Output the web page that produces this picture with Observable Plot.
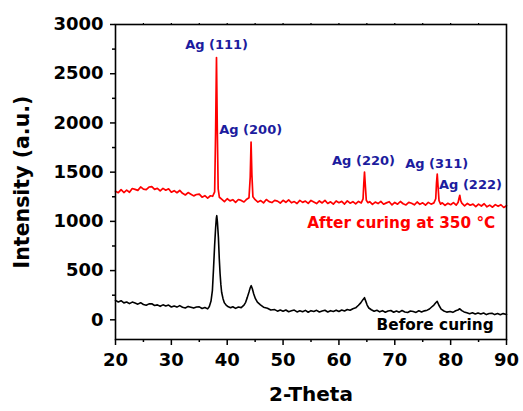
<!DOCTYPE html>
<html>
<head>
<meta charset="utf-8">
<script src="https://cdn.jsdelivr.net/npm/d3@7"></script>
<script src="https://cdn.jsdelivr.net/npm/@observablehq/plot@0.6"></script>
<style>
  html, body { margin: 0; padding: 0; background: white; }
</style>
</head>
<body>
<div id="chart"></div>
<script>
// After curing at 350 °C: [2-Theta, Intensity]
const afterCuring = [[20,1307],[20.5,1292],[21,1323],[21.5,1293],[22,1317],[22.5,1296],[23,1334],[23.5,1325],[24,1315],[24.5,1350],[25,1328],[25.5,1322],[26,1349],[26.5,1353],[27,1325],[27.5,1336],[28,1310],[28.5,1335],[29,1317],[29.5,1331],[30,1296],[30.5,1312],[31,1291],[31.5,1314],[32,1285],[32.5,1268],[33,1293],[33.5,1276],[34,1259],[34.5,1273],[35,1277],[35.5,1246],[36,1261],[36.5,1237],[37,1260],[37.4,1255],[37.75,1300],[37.92,1900],[38.08,2665],[38.22,1950],[38.38,1330],[38.6,1245],[39,1225],[39.5,1200],[40,1230],[40.5,1208],[41,1220],[41.5,1193],[42,1222],[42.5,1213],[43,1197],[43.5,1225],[43.9,1240],[44.12,1450],[44.27,1805],[44.42,1470],[44.6,1250],[45,1220],[45.5,1196],[46,1211],[46.5,1188],[47,1222],[47.5,1201],[48,1191],[48.5,1213],[49,1206],[49.5,1186],[50,1214],[50.5,1194],[51,1219],[51.5,1189],[52,1201],[52.5,1181],[53,1213],[53.5,1193],[54,1206],[54.5,1183],[55,1213],[55.5,1197],[56,1181],[56.5,1207],[57,1187],[57.5,1213],[58,1182],[58.5,1199],[59,1175],[59.5,1207],[60,1190],[60.5,1203],[61,1176],[61.5,1208],[62,1185],[62.5,1200],[63,1178],[63.5,1203],[64,1187],[64.32,1228],[64.45,1380],[64.58,1500],[64.72,1370],[64.9,1215],[65.2,1190],[65.5,1200],[66,1173],[66.5,1196],[67,1181],[67.5,1203],[68,1174],[68.5,1188],[69,1200],[69.5,1167],[70,1192],[70.5,1175],[71,1202],[71.5,1179],[72,1167],[72.5,1193],[73,1184],[73.5,1168],[74,1197],[74.5,1173],[75,1188],[75.5,1165],[76,1193],[76.5,1175],[77,1188],[77.33,1230],[77.47,1390],[77.6,1480],[77.74,1360],[77.92,1210],[78.2,1175],[78.5,1189],[79,1162],[79.5,1184],[80,1169],[80.5,1191],[81,1165],[81.35,1195],[81.5,1235],[81.64,1265],[81.8,1210],[82,1185],[82.5,1158],[83,1182],[83.5,1164],[84,1175],[84.5,1149],[85,1175],[85.5,1156],[86,1179],[86.5,1148],[87,1165],[87.5,1144],[88,1170],[88.5,1153],[89,1169],[89.5,1141],[90,1159]];

// Before curing: [2-Theta, Intensity]
const beforeCuring = [[20,197],[20.5,181],[21,194],[21.5,172],[22,181],[22.5,164],[23,180],[23.5,170],[24,159],[24.5,174],[25,156],[25.5,148],[26,162],[26.5,163],[27,146],[27.5,152],[28,137],[28.5,152],[29,141],[29.5,150],[30,130],[30.5,140],[31,129],[31.5,144],[32,128],[32.5,120],[33,136],[33.5,128],[34,119],[34.5,130],[35,132],[35.5,115],[36,125],[36.5,111],[36.8,135],[37.1,190],[37.35,300],[37.55,520],[37.75,760],[37.92,930],[38.05,1030],[38.13,1058],[38.25,990],[38.42,840],[38.58,620],[38.72,470],[38.86,360],[39,280],[39.25,215],[39.5,172],[39.8,150],[40.2,132],[40.6,122],[41,133],[41.5,116],[42,130],[42.5,124],[43,150],[43.3,178],[43.6,228],[43.9,282],[44.1,322],[44.3,347],[44.5,315],[44.75,262],[45.05,215],[45.4,180],[45.95,152],[46.5,128],[47.2,118],[47.8,100],[48.5,104],[49,88],[49.5,100],[50,88],[50.5,100],[51,82],[51.5,91],[52,99],[52.5,80],[53,92],[53.5,82],[54,96],[54.5,77],[55,93],[55.5,85],[56,96],[56.5,79],[57,89],[57.5,97],[58,79],[58.5,93],[59,85],[59.5,98],[60,84],[60.5,99],[61,89],[61.5,105],[62,97],[62.5,113],[63,122],[63.5,148],[63.9,172],[64.3,205],[64.58,225],[64.8,190],[65.05,150],[65.35,120],[65.8,102],[66.3,87],[66.8,97],[67.3,81],[67.8,93],[68.3,77],[68.8,89],[69.3,94],[69.8,77],[70.3,89],[70.8,78],[71.3,94],[71.8,80],[72.3,74],[72.8,90],[73.3,84],[73.8,75],[74.3,92],[74.8,80],[75.3,91],[75.8,98],[76.2,110],[76.6,130],[77,150],[77.3,170],[77.59,188],[77.9,148],[78.3,108],[78.8,90],[79.3,78],[79.9,84],[80.4,76],[80.9,92],[81.3,100],[81.64,112],[82,94],[82.4,80],[82.9,72],[83.4,62],[83.9,72],[84.4,59],[84.9,70],[85.4,59],[85.9,69],[86.4,53],[86.9,64],[87.4,67],[87.9,53],[88.4,63],[88.9,51],[89.4,63],[90,54]];

// Peak annotations
const peakLabels = ["Ag (111)", "Ag (200)", "Ag (220)", "Ag (311)", "Ag (222)"];
const peakLabelTheta = [38.1, 44.2, 64.4, 77.5, 83.55];
const peakLabelIntensity = [2795, 1928, 1612, 1586, 1367];

// Series labels
const seriesLabels = ["After curing at 350 °C", "Before curing"];
const seriesLabelTheta = [88.0, 87.7];
const seriesLabelIntensity = [979, -51];
const seriesColors = ["#ff0000", "#000000"];

// Axis ticks
const xMajorTicks = [20, 30, 40, 50, 60, 70, 80, 90];
const xMinorTicks = [25, 35, 45, 55, 65, 75, 85];
const xTopTicks = [25, 30, 35, 40, 45, 50, 55, 60, 65, 70, 75, 80, 85];
const yMajorTicks = [0, 500, 1000, 1500, 2000, 2500, 3000];
const yMinorTicks = [250, 750, 1250, 1750, 2250, 2750];

const peakTable = peakLabels.map((label, i) => ({label, theta: peakLabelTheta[i], intensity: peakLabelIntensity[i]}));
const seriesTable = seriesLabels.map((label, i) => ({label, theta: seriesLabelTheta[i], intensity: seriesLabelIntensity[i], color: seriesColors[i]}));

const chart = Plot.plot({
  width: 523,
  height: 411,
  marginLeft: 115,
  marginRight: 17,
  marginTop: 24,
  marginBottom: 72,
  style: {fontFamily: "DejaVu Sans", fontWeight: "bold", background: "white", color: "black"},
  x: {domain: [20, 90]},
  y: {domain: [-200, 3000]},
  marks: [
    Plot.line(beforeCuring, {x: d => d[0], y: d => d[1], stroke: "#000000", strokeWidth: 1.6}),
    Plot.line(afterCuring, {x: d => d[0], y: d => d[1], stroke: "#ff0000", strokeWidth: 1.7}),
    Plot.axisY(yMajorTicks, {tickSize: 5, tickPadding: 7, fontSize: 18, label: null, strokeWidth: 1.5, tickFormat: d => String(d)}),
    Plot.axisY(yMinorTicks, {tickSize: 3, text: null, label: null, strokeWidth: 1.5}),
    Plot.axisX(xMajorTicks, {tickSize: 6, tickPadding: 8, fontSize: 18, label: null, strokeWidth: 1.5}),
    Plot.axisX(xMinorTicks, {tickSize: 3, text: null, label: null, strokeWidth: 1.5}),
    Plot.axisX(xTopTicks, {anchor: "top", tickSize: 2, text: null, label: null, strokeWidth: 1.2}),
    Plot.frame({stroke: "black", strokeWidth: 1.6}),
    Plot.text(peakTable, {x: "theta", y: "intensity", text: "label", fill: "#1c1c9e", fontSize: 13, fontWeight: "bold"}),
    Plot.text(seriesTable, {x: "theta", y: "intensity", text: "label", fill: "color", textAnchor: "end", fontSize: 15.3, fontWeight: "bold"}),
    Plot.text(["Intensity (a.u.)"], {frameAnchor: "left", dx: -93, rotate: -90, textAnchor: "middle", fontSize: 20.5, fontWeight: "bold", fill: "black"}),
    Plot.text(["2-Theta"], {frameAnchor: "bottom", dy: 61, textAnchor: "middle", fontSize: 20, fontWeight: "bold", fill: "black"})
  ]
});
document.getElementById("chart").appendChild(chart);
</script>
</body>
</html>
